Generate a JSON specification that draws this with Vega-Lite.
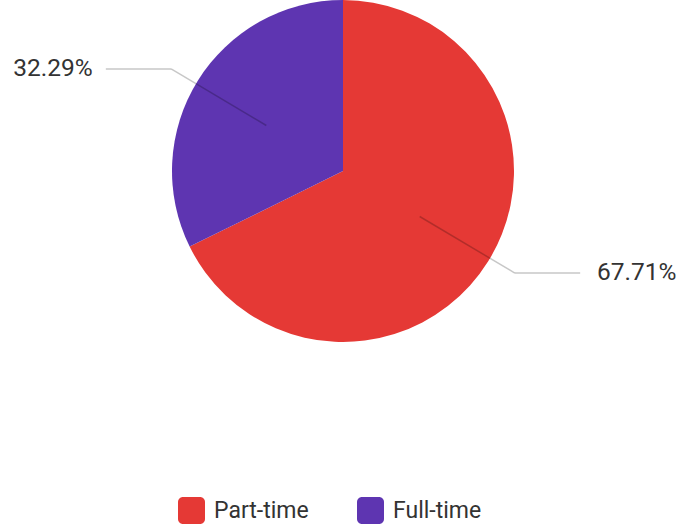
{
  "$schema": "https://vega.github.io/schema/vega-lite/v6.json",
  "width": 686,
  "height": 342,
  "padding": 0,
  "background": "white",
  "config": {"view": {"stroke": null}},
  "data": {"values": [
    {"type": "Part-time", "value": 67.71},
    {"type": "Full-time", "value": 32.29}
  ]},
  "layer": [
    {
      "mark": {"type": "arc", "outerRadius": 171},
      "encoding": {
        "theta": {"field": "value", "type": "quantitative", "stack": true},
        "order": {"field": "value", "sort": "descending"},
        "color": {
          "field": "type", "type": "nominal",
          "scale": {"domain": ["Part-time", "Full-time"], "range": ["#E53935", "#5E35B1"]},
          "legend": {
            "title": null,
            "orient": "none",
            "legendX": 178,
            "legendY": 497,
            "direction": "horizontal",
            "symbolType": "M -0.63 -1 L 0.63 -1 A 0.37 0.37 0 0 1 1 -0.63 L 1 0.63 A 0.37 0.37 0 0 1 0.63 1 L -0.63 1 A 0.37 0.37 0 0 1 -1 0.63 L -1 -0.63 A 0.37 0.37 0 0 1 -0.63 -1 Z",
            "symbolSize": 729,
            "symbolStrokeWidth": 0,
            "symbolOpacity": 1,
            "labelFont": "Roboto",
            "labelFontSize": 23,
            "labelColor": "#333333",
            "labelOffset": 9,
            "columnPadding": 48
          }
        }
      }
    },
    {
      "transform": [
        {"joinaggregate": [{"op": "sum", "field": "value", "as": "total"}]},
        {"stack": "value", "groupby": [], "sort": [{"field": "value", "order": "descending"}], "as": ["v0", "v1"]},
        {"calculate": "PI * (datum.v0 + datum.v1) / datum.total", "as": "a"},
        {"calculate": "0.513 * sin(datum.a)", "as": "x1"},
        {"calculate": "0.513 * cos(datum.a)", "as": "y1"},
        {"calculate": "1.15 * sin(datum.a)", "as": "x2"},
        {"calculate": "1.15 * cos(datum.a)", "as": "y2"}
      ],
      "mark": {"type": "rule", "color": "#000000", "opacity": 0.22, "strokeWidth": 1.5},
      "encoding": {
        "x": {"field": "x1", "type": "quantitative", "scale": {"domain": [-1.9489, 1.9489], "nice": false, "zero": false}, "axis": null},
        "y": {"field": "y1", "type": "quantitative", "scale": {"domain": [-1.0179, 1.0179], "nice": false, "zero": false}, "axis": null},
        "x2": {"field": "x2"},
        "y2": {"field": "y2"}
      }
    },
    {
      "transform": [
        {"joinaggregate": [{"op": "sum", "field": "value", "as": "total"}]},
        {"stack": "value", "groupby": [], "sort": [{"field": "value", "order": "descending"}], "as": ["v0", "v1"]},
        {"calculate": "PI * (datum.v0 + datum.v1) / datum.total", "as": "a"},
        {"calculate": "1.15 * sin(datum.a)", "as": "x2"},
        {"calculate": "1.15 * cos(datum.a)", "as": "y2"},
        {"calculate": "datum.x2 + (datum.x2 > 0 ? 0.371 : -0.371)", "as": "x3"}
      ],
      "mark": {"type": "rule", "color": "#000000", "opacity": 0.22, "strokeWidth": 1.5},
      "encoding": {
        "x": {"field": "x2", "type": "quantitative", "scale": {"domain": [-1.9489, 1.9489], "nice": false, "zero": false}, "axis": null},
        "y": {"field": "y2", "type": "quantitative", "scale": {"domain": [-1.0179, 1.0179], "nice": false, "zero": false}, "axis": null},
        "x2": {"field": "x3"},
        "y2": {"field": "y2"}
      }
    },
    {
      "transform": [
        {"joinaggregate": [{"op": "sum", "field": "value", "as": "total"}]},
        {"stack": "value", "groupby": [], "sort": [{"field": "value", "order": "descending"}], "as": ["v0", "v1"]},
        {"calculate": "PI * (datum.v0 + datum.v1) / datum.total", "as": "a"},
        {"calculate": "1.15 * sin(datum.a)", "as": "x2"},
        {"calculate": "1.15 * cos(datum.a)", "as": "y2"},
        {"filter": "datum.x2 > 0"},
        {"calculate": "datum.x2 + 0.371 + 0.095", "as": "lx"},
        {"calculate": "format(datum.value, '.2f') + '%'", "as": "label"}
      ],
      "mark": {"type": "text", "align": "left", "baseline": "middle", "font": "Roboto", "fontSize": 24.5, "color": "#333333"},
      "encoding": {
        "x": {"field": "lx", "type": "quantitative", "scale": {"domain": [-1.9489, 1.9489], "nice": false, "zero": false}, "axis": null},
        "y": {"field": "y2", "type": "quantitative", "scale": {"domain": [-1.0179, 1.0179], "nice": false, "zero": false}, "axis": null},
        "text": {"field": "label"}
      }
    },
    {
      "transform": [
        {"joinaggregate": [{"op": "sum", "field": "value", "as": "total"}]},
        {"stack": "value", "groupby": [], "sort": [{"field": "value", "order": "descending"}], "as": ["v0", "v1"]},
        {"calculate": "PI * (datum.v0 + datum.v1) / datum.total", "as": "a"},
        {"calculate": "1.15 * sin(datum.a)", "as": "x2"},
        {"calculate": "1.15 * cos(datum.a)", "as": "y2"},
        {"filter": "datum.x2 <= 0"},
        {"calculate": "datum.x2 - 0.371 - 0.075", "as": "lx"},
        {"calculate": "format(datum.value, '.2f') + '%'", "as": "label"}
      ],
      "mark": {"type": "text", "align": "right", "baseline": "middle", "font": "Roboto", "fontSize": 24.5, "color": "#333333"},
      "encoding": {
        "x": {"field": "lx", "type": "quantitative", "scale": {"domain": [-1.9489, 1.9489], "nice": false, "zero": false}, "axis": null},
        "y": {"field": "y2", "type": "quantitative", "scale": {"domain": [-1.0179, 1.0179], "nice": false, "zero": false}, "axis": null},
        "text": {"field": "label"}
      }
    }
  ]
}
